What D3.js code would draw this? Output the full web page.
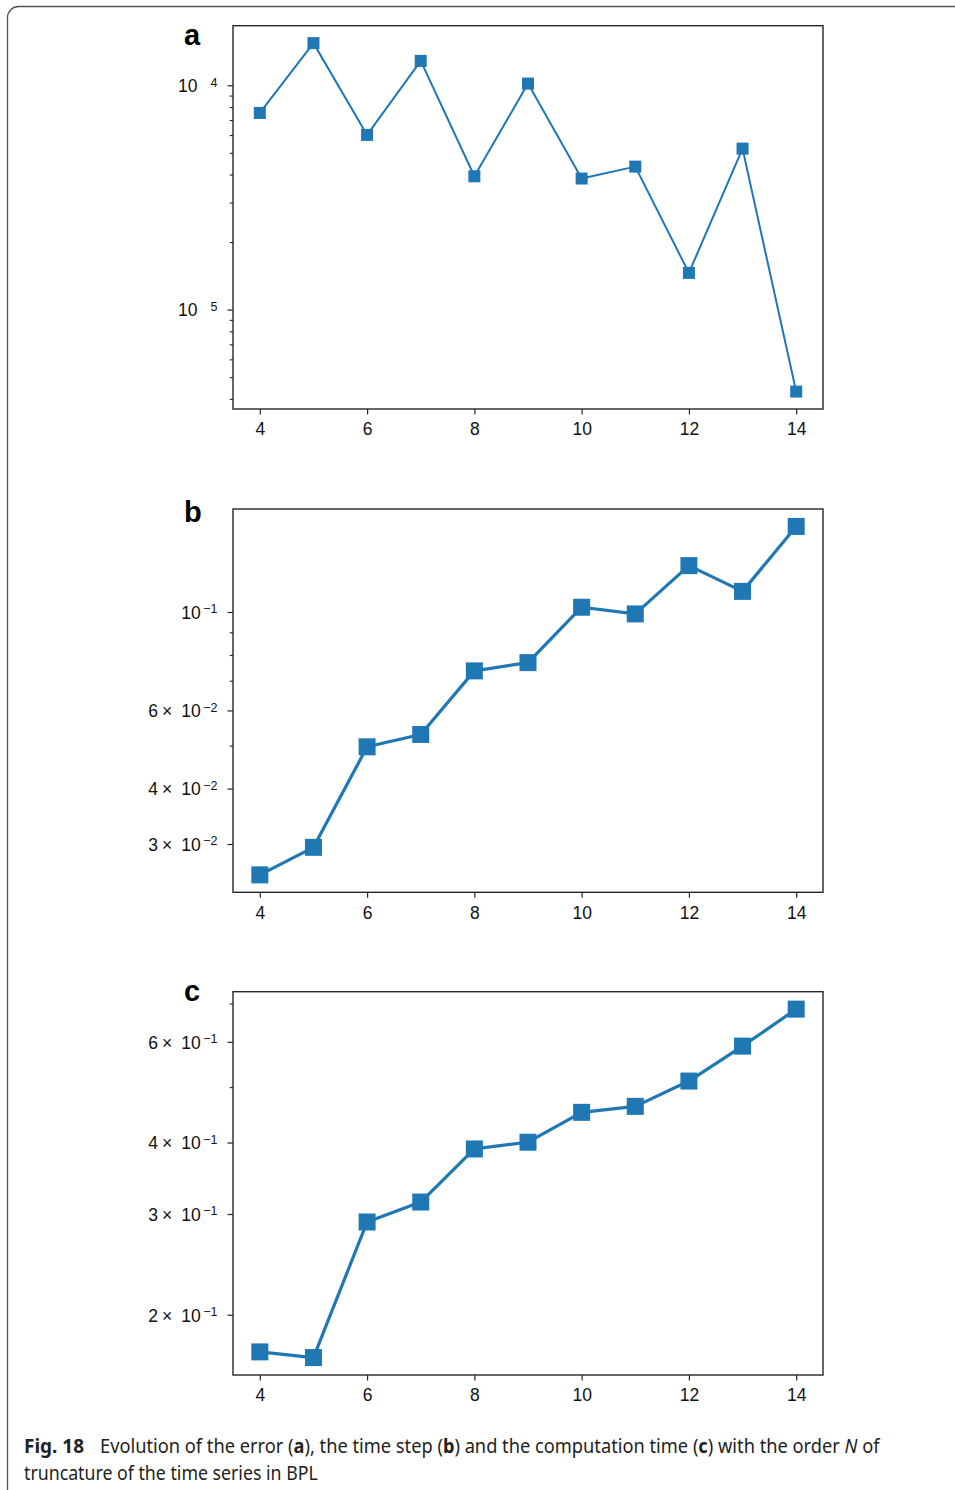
<!DOCTYPE html>
<html>
<head>
<meta charset="utf-8">
<script src="https://cdn.jsdelivr.net/npm/d3@7"></script>
<style>
  body { margin: 0; background: #fff; }
  svg { display: block; }
</style>
</head>
<body>
<svg id="fig" width="955" height="1490"></svg>
<script>
// Truncation order N of the time series
const orderN = [4, 5, 6, 7, 8, 9, 10, 11, 12, 13, 14];
const xTickValues = [4, 6, 8, 10, 12, 14];

// (a) error
const errorValues = [7.53e-5, 1.542e-4, 6.01e-5, 1.285e-4, 3.93e-5, 1.018e-4, 3.84e-5, 4.34e-5, 1.458e-5, 5.22e-5, 4.31e-6];
const errorTicks = [1e-4, 1e-5];
const errorTickMant = ["", ""];
const errorTickExp = ["4", "5"];

// (b) time step
const stepValues = [0.02556, 0.02949, 0.04968, 0.05297, 0.07367, 0.0769, 0.1025, 0.099, 0.1272, 0.1113, 0.1559];
const stepTicks = [0.1, 0.06, 0.04, 0.03];
const stepTickMant = ["", "6", "4", "3"];
const stepTickExp = ["\u22121", "\u22122", "\u22122", "\u22122"];

// (c) computation time
const cpuValues = [0.1722, 0.1683, 0.2905, 0.3148, 0.3898, 0.4005, 0.4517, 0.4627, 0.5123, 0.5897, 0.6844];
const cpuTicks = [0.6, 0.4, 0.3, 0.2];
const cpuTickMant = ["6", "4", "3", "2"];
const cpuTickExp = ["\u22121", "\u22121", "\u22121", "\u22121"];

const BLUE = "#1f77b4";
const AXIS = "#262626";
const FONT = "'Liberation Sans', Arial, sans-serif";

const svg = d3.select("#fig");

// page frame with rounded corner
svg.append("rect")
  .attr("x", 7.5).attr("y", 6.5)
  .attr("width", 1200).attr("height", 1700)
  .attr("rx", 11)
  .attr("fill", "none")
  .attr("stroke", "#555")
  .attr("stroke-width", 1.3);

const plotLeft = 233, plotRight = 823, plotH = 383.3;

const xPad = (d3.max(orderN) - d3.min(orderN)) * 0.05;
const x = d3.scaleLinear()
  .domain([d3.min(orderN) - xPad, d3.max(orderN) + xPad])
  .range([plotLeft, plotRight]);

const panels = [
  { letter: "a", values: errorValues, ticks: errorTicks, mant: errorTickMant, exp: errorTickExp,
    top: 25.7, letterY: 45, marker: 12, lineW: 2, expGap: 13 },
  { letter: "b", values: stepValues, ticks: stepTicks, mant: stepTickMant, exp: stepTickExp,
    top: 509, letterY: 521.7, marker: 17, lineW: 3.2, expGap: 2.5 },
  { letter: "c", values: cpuValues, ticks: cpuTicks, mant: cpuTickMant, exp: cpuTickExp,
    top: 991.7, letterY: 1000.7, marker: 17, lineW: 3.2, expGap: 2.5 }
];

panels.forEach(p => {
  const g = svg.append("g");
  const bottom = p.top + plotH;

  // log axis with 5% padding in log space on both ends
  const lg = d3.extent(p.values).map(Math.log10);
  const span = lg[1] - lg[0];
  const y = d3.scaleLog()
    .domain([Math.pow(10, lg[0] - 0.05 * span), Math.pow(10, lg[1] + 0.05 * span)])
    .range([bottom, p.top]);

  // unlabelled minor ticks
  const minor = y.ticks().filter(t => !p.ticks.some(m => Math.abs(m - t) / m < 1e-6));
  const minorAxis = g.append("g")
    .attr("transform", `translate(${plotLeft},0)`)
    .call(d3.axisLeft(y).tickValues(minor).tickSize(3.3).tickFormat(""));
  minorAxis.select(".domain").remove();
  minorAxis.selectAll("line").attr("stroke", AXIS).attr("stroke-width", 1.1);

  // labelled ticks, written as mantissa × 10 with superscript exponent
  const majorAxis = g.append("g")
    .attr("transform", `translate(${plotLeft},0)`)
    .call(d3.axisLeft(y).tickValues(p.ticks).tickSize(5.5).tickPadding(10).tickFormat(""));
  majorAxis.attr("font-family", FONT).attr("font-size", 17.5);
  majorAxis.select(".domain").remove();
  majorAxis.selectAll("line").attr("stroke", AXIS).attr("stroke-width", 1.2);
  majorAxis.selectAll(".tick text")
    .attr("fill", "#111")
    .attr("dy", "0.36em")
    .each(function (d, i) {
      const t = d3.select(this);
      t.text(null);
      if (p.mant[i]) {
        t.append("tspan").text(p.mant[i]);
        t.append("tspan").attr("dx", 4).text("\u00d7");
        t.append("tspan").attr("dx", 9).text("10");
      } else {
        t.append("tspan").text("10");
      }
      t.append("tspan")
        .attr("dx", p.expGap)
        .attr("dy", -5.5)
        .attr("font-size", 12.5)
        .text(p.exp[i]);
    });

  // x axis
  const xAxis = g.append("g")
    .attr("transform", `translate(0,${bottom})`)
    .call(d3.axisBottom(x).tickValues(xTickValues).tickSize(5.5).tickPadding(8.5));
  xAxis.attr("font-family", FONT).attr("font-size", 17.5);
  xAxis.select(".domain").remove();
  xAxis.selectAll("line").attr("stroke", AXIS).attr("stroke-width", 1.2);
  xAxis.selectAll("text").attr("fill", "#111");

  // series line and square markers
  const pts = orderN.map((n, i) => ({ n, v: p.values[i] }));
  g.append("path")
    .datum(pts)
    .attr("fill", "none")
    .attr("stroke", BLUE)
    .attr("stroke-width", p.lineW)
    .attr("stroke-linejoin", "round")
    .attr("d", d3.line().x(d => x(d.n)).y(d => y(d.v)));

  g.selectAll("rect.mk")
    .data(pts)
    .join("rect")
    .attr("class", "mk")
    .attr("x", d => x(d.n) - p.marker / 2)
    .attr("y", d => y(d.v) - p.marker / 2)
    .attr("width", p.marker)
    .attr("height", p.marker)
    .attr("fill", BLUE);

  // axes frame
  g.append("rect")
    .attr("x", plotLeft).attr("y", p.top)
    .attr("width", plotRight - plotLeft).attr("height", plotH)
    .attr("fill", "none")
    .attr("stroke", AXIS)
    .attr("stroke-width", 1.4);

  // panel letter
  g.append("text")
    .attr("x", 184).attr("y", p.letterY)
    .attr("font-family", FONT)
    .attr("font-weight", "bold")
    .attr("font-size", 29)
    .attr("fill", "#000")
    .text(p.letter);
});

// caption
const CAP_FONT = "'Noto Sans', 'Open Sans', sans-serif";
const CAP_COLOR = "#231f20";

function fitted(xPos, baseline, width) {
  const t = svg.append("text")
    .attr("font-family", CAP_FONT)
    .attr("font-size", 19.5)
    .attr("fill", CAP_COLOR);
  return {
    t,
    fit() {
      const w = t.node().getComputedTextLength();
      t.attr("transform", `translate(${xPos},${baseline}) scale(${width / w},1)`);
    }
  };
}

const figLabel = fitted(24, 1453, 60);
figLabel.t.attr("font-weight", "bold").text("Fig. 18");
figLabel.fit();

const line1 = fitted(100, 1453, 780);
[
  ["Evolution of the error (", ""], ["a", "b"], ["), the time step (", ""], ["b", "b"],
  [") and the computation time (", ""], ["c", "b"], [") with the order ", ""], ["N", "i"], [" of", ""]
].forEach(([s, style]) => {
  const ts = line1.t.append("tspan").text(s);
  if (style === "b") ts.attr("font-weight", "bold");
  if (style === "i") ts.attr("font-style", "italic");
});
line1.fit();

const line2 = fitted(24, 1479.5, 294);
line2.t.text("truncature of the time series in BPL");
line2.fit();
</script>
</body>
</html>
